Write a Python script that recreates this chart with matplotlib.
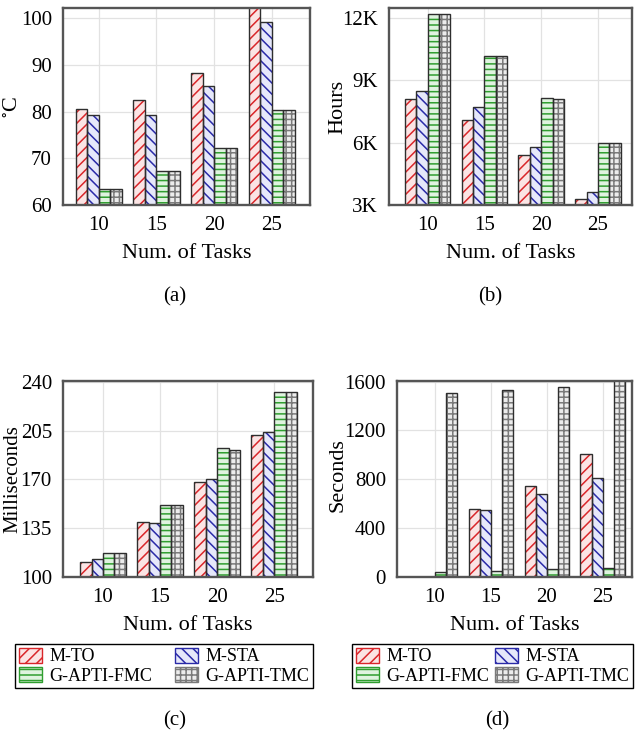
import numpy as np
import matplotlib
matplotlib.use("Agg")
import matplotlib.pyplot as plt
from matplotlib.patches import Patch

plt.rcParams["font.family"] = ["Liberation Serif", "DejaVu Serif"]
plt.rcParams["mathtext.fontset"] = "stix"
plt.rcParams["hatch.linewidth"] = 1.1

# data
tasks = [10, 15, 20, 25]
methods = ["M-TO", "M-STA", "G-APTI-FMC", "G-APTI-TMC"]

temp_mto = [80.6, 82.6, 88.3, 103.0]
temp_msta = [79.2, 79.3, 85.4, 99.1]
temp_fmc = [63.5, 67.2, 72.2, 80.3]
temp_tmc = [63.5, 67.2, 72.3, 80.4]

hours_mto = [8090, 7100, 5400, 3300]
hours_msta = [8480, 7720, 5780, 3630]
hours_fmc = [12210, 10170, 8150, 5990]
hours_tmc = [12210, 10170, 8110, 5990]

ms_mto = [111.0, 139.1, 168.4, 201.8]
ms_msta = [112.9, 138.8, 170.4, 203.7]
ms_fmc = [117.2, 151.3, 192.3, 232.4]
ms_tmc = [117.2, 151.3, 191.1, 232.4]

sec_mto = [0, 555, 745, 1010]
sec_msta = [0, 550, 680, 810]
sec_fmc = [45, 50, 65, 70]
sec_tmc = [1510, 1530, 1555, 1620]

# style per method: hatch colour, face colour, hatch
styles = [
    ("#d9262a", "#fbe4e4", "///"),
    ("#2a2aa8", "#e6e8fa", "\\\\\\"),
    ("#2f9e2f", "#dff3df", "---"),
    ("#7a7a7a", "#ececec", "+++"),
]


def bars(ax, series, width=1.0):
    x = np.array(tasks, dtype=float)
    offsets = [-1.5, -0.5, 0.5, 1.5]
    for vals, off, (hc, fc, h) in zip(series, offsets, styles):
        ax.bar(x + off * width, vals, width, color=fc, edgecolor=hc,
               hatch=h, linewidth=0, zorder=2)
        ax.bar(x + off * width, vals, width, fill=False, edgecolor="#2e2e2e",
               linewidth=1.0, zorder=3)


def style_axes(ax, xlim, ylim, yticks, yticklabels=None):
    ax.set_xlim(*xlim)
    ax.set_ylim(*ylim)
    ax.set_xticks(tasks)
    ax.set_yticks(yticks)
    if yticklabels is not None:
        ax.set_yticklabels(yticklabels)
    ax.grid(True, color="#e2e2e2", linewidth=0.9)
    ax.set_axisbelow(True)
    for s in ax.spines.values():
        s.set_color("#555555")
        s.set_linewidth(1.7)
        s.set_zorder(4)
    ax.tick_params(labelsize=15, direction="in", length=0, pad=8)
    ax.set_xlabel("Num. of Tasks", fontsize=16)


fig = plt.figure(figsize=(6.35, 7.43), dpi=100)
ax_a = fig.add_axes([0.0992, 0.7241, 0.389, 0.2651])
ax_b = fig.add_axes([0.6126, 0.7241, 0.3827, 0.2651])
ax_c = fig.add_axes([0.0992, 0.2234, 0.3937, 0.2638])
ax_d = fig.add_axes([0.6252, 0.2234, 0.370, 0.2638])

bars(ax_a, [temp_mto, temp_msta, temp_fmc, temp_tmc])
style_axes(ax_a, (6.9, 28.3), (60, 102.2), [60, 70, 80, 90, 100])
ax_a.set_ylabel(r"$^{\circ}$C", fontsize=16)
ax_a.yaxis.set_label_coords(-0.16, 0.5)

bars(ax_b, [hours_mto, hours_msta, hours_fmc, hours_tmc])
style_axes(ax_b, (6.6, 28.0), (3000, 12480), [3000, 6000, 9000, 12000],
           ["3K", "6K", "9K", "12K"])
ax_b.set_ylabel("Hours", fontsize=16)
ax_b.yaxis.set_label_coords(-0.17, 0.5)

bars(ax_c, [ms_mto, ms_msta, ms_fmc, ms_tmc])
style_axes(ax_c, (6.5, 28.4), (100, 240.5), [100, 135, 170, 205, 240])
ax_c.set_ylabel("Milliseconds", fontsize=15)
ax_c.yaxis.set_label_coords(-0.163, 0.5)

bars(ax_d, [sec_mto, sec_msta, sec_fmc, sec_tmc])
style_axes(ax_d, (6.6, 27.6), (0, 1605), [0, 400, 800, 1200, 1600])
ax_d.set_ylabel("Seconds", fontsize=16)
ax_d.yaxis.set_label_coords(-0.21, 0.52)

for ax in (ax_a, ax_b, ax_c, ax_d):
    ax.xaxis.set_label_coords(0.5, -0.2)

handles = [Patch(facecolor=fc, edgecolor=hc, hatch=h, linewidth=1.0)
           for hc, fc, h in styles]
# legend fills column by column: reorder so rows read M-TO, M-STA / FMC, TMC
order = [0, 2, 1, 3]
for x0, x1 in ((15, 313), (352, 633)):
    fig.legend([handles[i] for i in order], [methods[i] for i in order],
               ncol=2, fontsize=13, loc="upper left",
               bbox_to_anchor=(x0 / 635, 1 - 644 / 743, (x1 - x0) / 635, 0.0),
               mode="expand", frameon=True, fancybox=False,
               edgecolor="black", framealpha=1, borderpad=0.2,
               handlelength=1.3, handleheight=0.9, handletextpad=0.4,
               labelspacing=0.1, columnspacing=0.6, borderaxespad=0)

for label, x, y in (("(a)", 175, 297), ("(b)", 490, 297),
                    ("(c)", 175, 721), ("(d)", 497, 721)):
    fig.text(x / 635, 1 - y / 743, label, fontsize=15, ha="center",
             va="center")

fig.savefig("out.png", dpi=100)
